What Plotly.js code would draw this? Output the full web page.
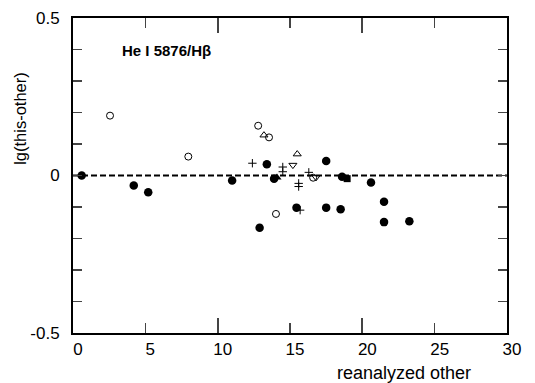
<!DOCTYPE html>
<html><head><meta charset="utf-8">
<script src="https://cdn.plot.ly/plotly-3.0.1.min.js"></script>
<style>html,body{margin:0;padding:0;background:#fff}#chart{width:535px;height:383px}</style>
</head><body><div id="chart"></div>
<script>
// filled circles
const filledX = [0.6, 4.2, 5.2, 11.0, 12.9, 13.4, 13.9, 15.45, 17.5, 17.5, 18.5, 18.6, 20.6, 21.5, 21.5, 23.25];
const filledY = [0.0, -0.032, -0.053, -0.016, -0.166, 0.036, -0.01, -0.102, 0.046, -0.102, -0.107, -0.004, -0.022, -0.083, -0.148, -0.145];
// filled triangle
const filledTriX = [14.1];
const filledTriY = [-0.006];
// filled square
const filledSqX = [18.95];
const filledSqY = [-0.01];
// open circles
const openX = [2.56, 7.97, 12.8, 13.55, 14.03, 16.6];
const openY = [0.19, 0.06, 0.158, 0.121, -0.122, -0.007];
// open triangles up
const triUpX = [13.2, 15.5];
const triUpY = [0.128, 0.068];
// open triangles down
const triDnX = [15.2, 16.8];
const triDnY = [0.033, -0.006];
// plus signs
const plusX = [12.4, 14.5, 14.5, 15.6, 15.6, 16.3, 15.7];
const plusY = [0.039, 0.027, 0.012, -0.025, -0.035, 0.01, -0.11];
// zero reference line
const refX = [0, 30];
const refY = [0, 0];
// ticks
const xTickVals = [0, 5, 10, 15, 20, 25, 30];
const xTickText = ['0', '5', '10', '15', '20', '25', '30'];
const xMajorVals = [0, 10, 20, 30];
const yTickVals = [-0.5, -0.4, -0.3, -0.2, -0.1, 0, 0.1, 0.2, 0.3, 0.4, 0.5];
const yTickText = ['-0.5', '', '', '', '', '0', '', '', '', '', '0.5'];

const FONT = 'Liberation Sans, Arial, Helvetica, sans-serif';

const traces = [
  {x: refX, y: refY, xaxis: 'x2', yaxis: 'y', mode: 'lines', line: {color: '#000', width: 2, dash: '6px,3px'}, hoverinfo: 'skip'},
  {x: filledX, y: filledY, mode: 'markers', marker: {symbol: 'circle', size: 8.5, color: '#000'}},
  {x: filledTriX, y: filledTriY, mode: 'markers', marker: {symbol: 'triangle-up', size: 8, color: '#000'}},
  {x: filledSqX, y: filledSqY, mode: 'markers', marker: {symbol: 'square', size: 7, color: '#000'}},
  {x: openX, y: openY, mode: 'markers', marker: {symbol: 'circle-open', size: 7, color: '#000', line: {width: 1}}},
  {x: triUpX, y: triUpY, mode: 'markers', marker: {symbol: 'triangle-up-open', size: 7, color: '#000', line: {width: 1}}},
  {x: triDnX, y: triDnY, mode: 'markers', marker: {symbol: 'triangle-down-open', size: 7, color: '#000', line: {width: 1}}},
  {x: plusX, y: plusY, mode: 'markers', marker: {symbol: 'cross-thin-open', size: 6, color: '#000', line: {width: 1, color: '#000'}}}
];

const layout = {
  width: 535, height: 383,
  margin: {l: 73, r: 28, t: 18, b: 50},
  paper_bgcolor: '#fff', plot_bgcolor: '#fff',
  showlegend: false,
  font: {family: FONT, size: 17, color: '#000'},
  xaxis: {
    range: [0, 30], tickvals: xMajorVals, ticks: 'inside', ticklen: 15, tickwidth: 2,
    showticklabels: false, showgrid: false, zeroline: false,
    showline: true, linewidth: 2, linecolor: '#000', mirror: 'ticks'
  },
  xaxis2: {
    range: [0, 30], overlaying: 'x', anchor: 'y', side: 'bottom',
    tickvals: xTickVals, ticktext: xTickText, ticks: 'inside', ticklen: 10, tickwidth: 1.5,
    ticklabelshift: 5, ticklabelstandoff: 0,
    showgrid: false, zeroline: false, showline: true, linewidth: 2, linecolor: '#000', mirror: 'ticks',
    tickfont: {family: FONT, size: 17, color: '#000'}
  },
  yaxis: {
    range: [-0.5, 0.5], tickvals: yTickVals, ticktext: yTickText, ticks: 'inside', ticklen: 9, tickwidth: 1.5,
    showgrid: false, zeroline: false, showline: true, linewidth: 2, linecolor: '#000', mirror: 'ticks',
    ticklabelstandoff: 8,
    tickfont: {family: FONT, size: 17, color: '#000'}
  },
  annotations: [
    {text: 'He I 5876/Hβ', xref: 'x', yref: 'y', x: 3.25, y: 0.398, xanchor: 'left', yanchor: 'middle',
     showarrow: false, font: {family: FONT, size: 15, color: '#000', weight: 'bold'}},
    {text: 'lg(this-other)', xref: 'paper', yref: 'paper', x: -0.122, y: 0.68, textangle: -90,
     xanchor: 'center', yanchor: 'middle', showarrow: false, font: {family: FONT, size: 16.5, color: '#000'}},
    {text: 'reanalyzed other', xref: 'paper', yref: 'paper', x: 0.763, y: -0.127,
     xanchor: 'center', yanchor: 'middle', showarrow: false, font: {family: FONT, size: 18, color: '#000'}}
  ]
};

Plotly.newPlot('chart', traces, layout, {staticPlot: true, displayModeBar: false});
</script></body></html>
